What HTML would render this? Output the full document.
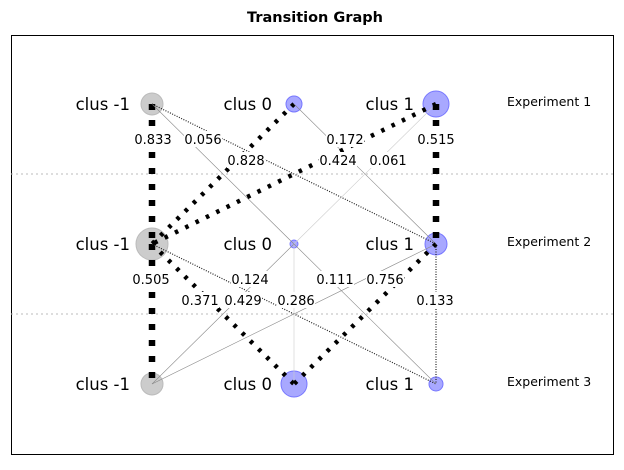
<!DOCTYPE html>
<html><head><meta charset="utf-8"><style>
html,body{margin:0;padding:0;background:#fff;}
svg text{font-family:"DejaVu Sans","Liberation Sans",sans-serif;}
</style></head><body>
<svg id="c" width="624" height="465" xmlns="http://www.w3.org/2000/svg"></svg>
<script>
const clusters=["clus -1","clus 0","clus 1"];
const experiments=["Experiment 1","Experiment 2","Experiment 3"];
const nodeSizes=[[11,8,13],[16,4,11],[11,13,7]];
const nodeGray=[true,false,false];
const edgeLevel=[0,0,0,0,0,0,0,0, 1,1,1,1,1,1,1,1,1];
const edgeFrom=[0,0,0,1,1,2,2,2, 0,0,0,1,1,1,2,2,2];
const edgeTo=[0,1,2,0,2,0,1,2, 0,1,2,0,1,2,0,1,2];
const edgeWeight=[0.833,0.056,0.11,0.828,0.172,0.424,0.061,0.515, 0.505,0.371,0.124,0.429,0.01,0.111,0.286,0.756,0.133];
const edgeLabels=["0.833","0.056","","0.828","0.172","0.424","0.061","0.515","0.505","0.371","0.124","0.429","","0.111","0.286","0.756","0.133"];
const edgeStyle=["sq","thin","dot","thick","thin","thick","faint","sq","sq","thick","dot","thin","faint","thin","thin","thick","dot"];
const labelPos=[[153,139],[203,139],[0,0],[246,160],[345,139],[338,160],[388,160],[436,139],[151,279],[200,300],[250,279],[243,300],[0,0],[335,279],[296,300],[385,279],[435,300]];
const NS="http://www.w3.org/2000/svg";
const svg=document.getElementById('c');
function el(t,a,p){const e=document.createElementNS(NS,t);for(const k in a)e.setAttribute(k,a[k]);(p||svg).appendChild(e);return e;}
const xOf=i=>152+i*142, yOf=l=>104+l*140;
let t=el('text',{x:315,y:22,'text-anchor':'middle','font-size':14.5,'font-weight':'bold'});t.textContent="Transition Graph";


let f=el('rect',{x:11.5,y:35.5,width:602,height:419,fill:'none',stroke:'#000','stroke-width':1});


[174,314].forEach(y=>{const s=el('line',{x1:11,x2:614,y1:y,y2:y,stroke:'#bbb','stroke-width':1,'stroke-dasharray':'2,3'});

});
for(let l=0;l<3;l++)for(let i=0;i<3;i++){
 const c=el('circle',{cx:xOf(i),cy:yOf(l),r:nodeSizes[l][i],fill:nodeGray[i]?'#cccccc':'#a8a8ff',stroke:nodeGray[i]?'#bbbbbb':'#7777ff','stroke-width':1});
 
 
 const tx=el('text',{x:xOf(i)-22,y:yOf(l)+6,'text-anchor':'end','font-size':16.5});tx.textContent=clusters[i];
 
 
}
const styles={
 sq:{stroke:'#000','stroke-width':6.5,'stroke-dasharray':'6,10'},
 thick:{stroke:'#000','stroke-width':4.5,'stroke-dasharray':'3.5,8'},
 dot:{stroke:'#222','stroke-width':1.2,'stroke-dasharray':'1,1.5'},
 thin:{stroke:'#888','stroke-width':0.6},
 faint:{stroke:'#ccc','stroke-width':0.6}
};
for(let k=0;k<edgeFrom.length;k++){
 const l=edgeLevel[k];
 const x1=xOf(edgeFrom[k]),y1=yOf(l),x2=xOf(edgeTo[k]),y2=yOf(l+1);
 const ln=el('line',Object.assign({x1,y1,x2,y2,'data-weight':edgeWeight[k]},styles[edgeStyle[k]]));
 
 
}
for(let k=0;k<edgeFrom.length;k++){
 if(!edgeLabels[k])continue;
 const [x,y]=labelPos[k];
 const bg=el('rect',{x:x-19,y:y-8,width:38,height:16,fill:'#fff'});
 
 
 const tx=el('text',{x:x,y:y+5,'text-anchor':'middle','font-size':13});tx.textContent=edgeLabels[k];
 
 
}
experiments.forEach((e,l)=>{const tx=el('text',{x:507,y:yOf(l)+2,'font-size':12.5});tx.textContent=e;

});
</script>
</body></html>
